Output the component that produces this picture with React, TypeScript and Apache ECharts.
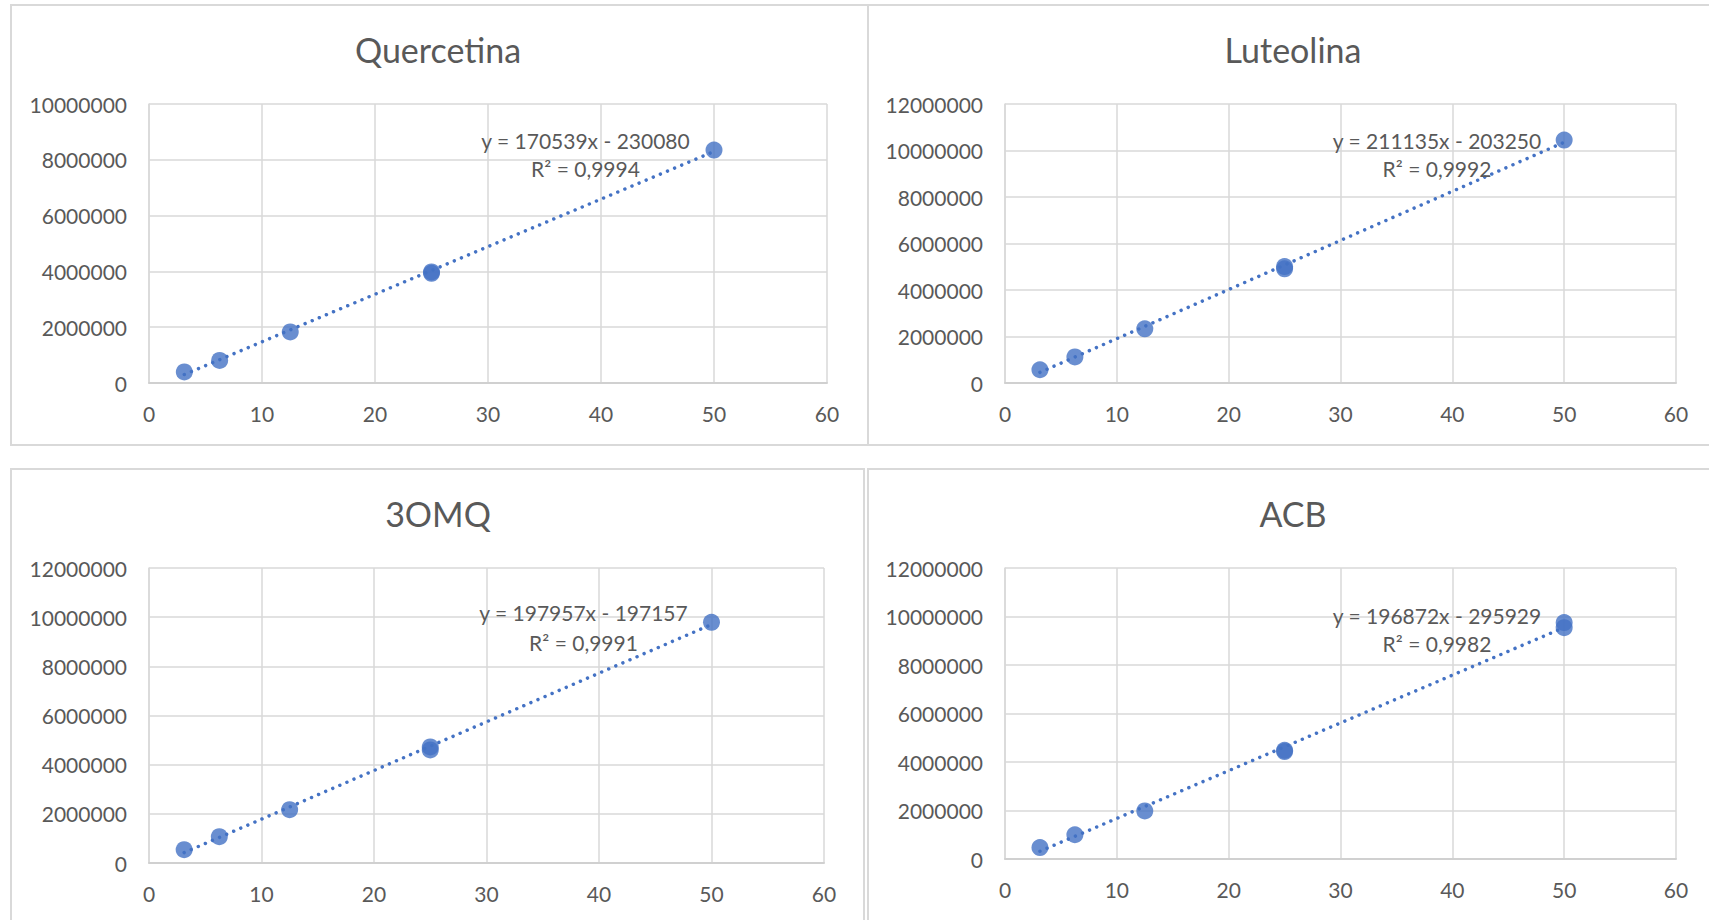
import React, { useEffect, useRef } from "react";
import * as echarts from "echarts";

// ---- data ----
const titles = ["Quercetina", "Luteolina", "3OMQ", "ACB"];

const concQuercetina = [3.125, 6.25, 12.5, 25, 25, 50];
const areaQuercetina = [395000, 810000, 1830000, 3930000, 3980000, 8350000];

const concLuteolina = [3.125, 6.25, 12.5, 25, 25, 50];
const areaLuteolina = [570000, 1120000, 2330000, 4910000, 5010000, 10450000];

const conc3OMQ = [3.125, 6.25, 12.5, 25, 25, 50];
const area3OMQ = [540000, 1070000, 2170000, 4600000, 4720000, 9790000];

const concACB = [3.125, 6.25, 12.5, 25, 25, 50, 50];
const areaACB = [470000, 1000000, 1980000, 4430000, 4480000, 9540000, 9750000];

const slopes = [170539, 211135, 197957, 196872];
const intercepts = [-230080, -203250, -197157, -295929];
const r2Labels = ["0,9994", "0,9992", "0,9991", "0,9982"];

const yMaxes = [10000000, 12000000, 12000000, 12000000];
const yStep = 2000000;
const xMin = 0;
const xMax = 60;
const xStep = 10;

const concs = [concQuercetina, concLuteolina, conc3OMQ, concACB];
const areas = [areaQuercetina, areaLuteolina, area3OMQ, areaACB];

// ---- layout ----
const grids = [
  { left: 149, top: 104, width: 678, height: 279 },
  { left: 1005, top: 104, width: 671, height: 279 },
  { left: 149, top: 568, width: 675, height: 295 },
  { left: 1005, top: 568, width: 671, height: 291 },
];
const titlePos = [
  [438, 49],
  [1293, 49],
  [438, 513],
  [1293, 513],
];
const eqPos = [
  [585.5, 140, 168],
  [1437, 140, 168],
  [583.5, 612, 642],
  [1437, 615, 643],
];
const panels = [
  { x: 11, y: 5, w: 857, h: 440 },
  { x: 868, y: 5, w: 860, h: 440 },
  { x: 11, y: 469, w: 853, h: 470 },
  { x: 868, y: 469, w: 860, h: 470 },
];

const TEXT = "#595959";
const GRID = "#d9d9d9";
const BLUE = "#4472C4";
const FONT = "Lato, 'Open Sans', sans-serif";

export default function App() {
  const ref = useRef<HTMLDivElement>(null);

  useEffect(() => {
    if (!ref.current) return;
    const chart = echarts.init(ref.current, undefined, { renderer: "svg" });

    const xAxes: any[] = [];
    const yAxes: any[] = [];
    const series: any[] = [];
    const graphics: any[] = [];

    panels.forEach((p) => {
      graphics.push({
        type: "rect",
        shape: { x: p.x, y: p.y, width: p.w, height: p.h },
        style: { fill: "#ffffff", stroke: GRID, lineWidth: 2 },
        z: -10,
      });
    });

    titles.forEach((t, i) => {
      xAxes.push({
        type: "value",
        gridIndex: i,
        min: xMin,
        max: xMax,
        interval: xStep,
        axisLine: { show: true, lineStyle: { color: "#d0d0d0", width: 2 } },
        axisTick: { show: false },
        axisLabel: {
          color: TEXT,
          fontFamily: FONT,
          fontSize: 21,
          margin: 20,
          formatter: (v: number) => String(v),
        },
        splitLine: { show: true, lineStyle: { color: GRID, width: 1.5 } },
      });
      yAxes.push({
        type: "value",
        gridIndex: i,
        min: 0,
        max: yMaxes[i],
        interval: yStep,
        axisLine: { show: true, lineStyle: { color: GRID, width: 1.5 } },
        axisTick: { show: false },
        axisLabel: {
          color: TEXT,
          fontFamily: FONT,
          fontSize: 21,
          margin: 22,
          formatter: (v: number) => String(v),
        },
        splitLine: { show: true, lineStyle: { color: GRID, width: 1.5 } },
      });

      const xs = concs[i];
      const ys = areas[i];
      const lo = Math.min(...xs);
      const hi = Math.max(...xs);
      series.push({
        type: "line",
        xAxisIndex: i,
        yAxisIndex: i,
        data: [
          [lo, slopes[i] * lo + intercepts[i]],
          [hi, slopes[i] * hi + intercepts[i]],
        ],
        showSymbol: false,
        symbol: "none",
        lineStyle: { color: BLUE, width: 3.5, type: [0.01, 7.7], cap: "round" },
        z: 2,
        silent: true,
      });
      series.push({
        type: "scatter",
        xAxisIndex: i,
        yAxisIndex: i,
        data: xs.map((x, k) => [x, ys[k]]),
        symbol: "circle",
        symbolSize: 17,
        itemStyle: { color: BLUE },
        z: 3,
      });

      graphics.push({
        type: "text",
        x: titlePos[i][0],
        y: titlePos[i][1],
        style: {
          text: t,
          fill: TEXT,
          font: `34px ${FONT}`,
          align: "center",
          verticalAlign: "middle",
        },
      });
      const b = intercepts[i];
      const eq = `y = ${slopes[i]}x ${b < 0 ? "-" : "+"} ${Math.abs(b)}`;
      graphics.push({
        type: "text",
        x: eqPos[i][0],
        y: eqPos[i][1],
        z: 10,
        style: {
          text: eq,
          fill: TEXT,
          font: `21px ${FONT}`,
          align: "center",
          verticalAlign: "middle",
        },
      });
      graphics.push({
        type: "text",
        x: eqPos[i][0],
        y: eqPos[i][2],
        z: 10,
        style: {
          text: `R² = ${r2Labels[i]}`,
          fill: TEXT,
          font: `21px ${FONT}`,
          align: "center",
          verticalAlign: "middle",
        },
      });
    });

    chart.setOption({
      animation: false,
      backgroundColor: "#ffffff",
      grid: grids.map((g) => ({ ...g, containLabel: false })),
      xAxis: xAxes,
      yAxis: yAxes,
      series,
      graphic: { elements: graphics },
    });

    return () => chart.dispose();
  }, []);

  return (
    <div
      ref={ref}
      style={{ position: "absolute", left: 0, top: 0, width: 1709, height: 920 }}
    />
  );
}
